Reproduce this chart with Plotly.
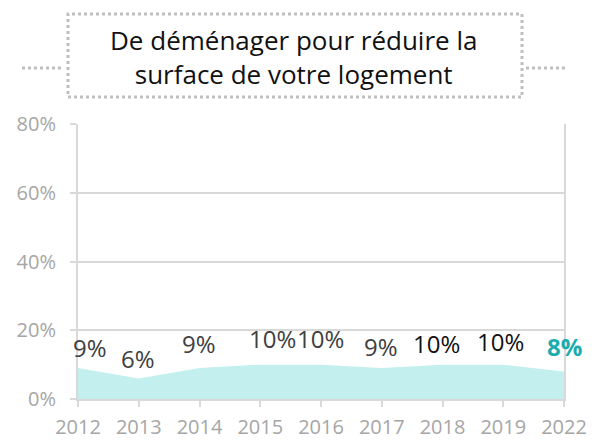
import plotly.graph_objects as go

years = ["2012", "2013", "2014", "2015", "2016", "2017", "2018", "2019", "2022"]
values = [9, 6, 9, 10, 10, 9, 10, 10, 8]
labels = ["9%", "6%", "9%", "10%", "10%", "9%", "10%", "10%", "8%"]
y_ticks = [0, 20, 40, 60, 80]
y_tick_labels = ["0%", "20%", "40%", "60%", "80%"]
title_lines = ["De déménager pour réduire la", "surface de votre logement"]

FONT = "Open Sans"
L, R, T, B = 78, 31, 124, 41
PW, PH = 595 - L - R, 440 - T - B

def px(x):
    return (x - L) / PW

def py(y):
    return (440 - B - y) / PH

fig = go.Figure()
fig.add_trace(go.Scatter(
    x=list(range(len(years))), y=values, mode="lines",
    line=dict(color="#C3F0EF", width=0), fill="tozeroy", fillcolor="#C3F0EF",
    hoverinfo="skip", showlegend=False))

label_colors = ["#404040"] * 6 + ["#111111", "#111111", "#1AADB0"]
label_bold = [False] * 8 + [True]
xshifts = [12, -1, -1, 12, -1, -1, -6, -3, 0]
yshifts = [21, 20, 25, 26, 26, 22, 21, 23, 25]
for i, (v, t) in enumerate(zip(values, labels)):
    fig.add_annotation(x=i, y=v, text=f"<b>{t}</b>" if label_bold[i] else t,
                       showarrow=False, xshift=xshifts[i], yshift=yshifts[i],
                       xanchor="center", yanchor="middle",
                       font=dict(family=FONT, size=24, color=label_colors[i]))

# title box
dot = dict(color="#BFBFBF", width=3, dash="dot")
fig.add_shape(type="rect", xref="paper", yref="paper",
              x0=px(68), x1=px(522), y0=py(97), y1=py(14), line=dot)
fig.add_shape(type="line", xref="paper", yref="paper", x0=px(22), x1=px(64),
              y0=py(68), y1=py(68), line=dot)
fig.add_shape(type="line", xref="paper", yref="paper", x0=px(526), x1=px(568),
              y0=py(68), y1=py(68), line=dot)
fig.add_annotation(xref="paper", yref="paper", x=px(293), y=py(57),
                   xanchor="center", yanchor="middle",
                   text="<br>".join(title_lines), showarrow=False,
                   font=dict(family=FONT, size=26, color="#111111"))

axis_common = dict(showline=True, linecolor="#D9D9D9", linewidth=2,
                   ticks="outside", ticklen=6, tickcolor="#D9D9D9", tickwidth=1.5,
                   automargin=False, zeroline=False,
                   tickfont=dict(family=FONT, size=20, color="#A6A6A6"))
fig.update_layout(
    width=595, height=440, margin=dict(l=L, r=R, t=T, b=B),
    paper_bgcolor="white", plot_bgcolor="white",
    xaxis=dict(range=[0, len(years) - 1], tickmode="array",
               tickvals=list(range(len(years))), ticktext=years,
               showgrid=False, ticklabelstandoff=3, **axis_common),
    yaxis=dict(range=[0, 80], tickmode="array", tickvals=y_ticks,
               ticktext=y_tick_labels, showgrid=True, gridcolor="#D9D9D9",
               gridwidth=1.5, mirror=True, ticklabelstandoff=10, **axis_common),
)
fig.write_html("out.html", config={"displayModeBar": False},
               post_script="document.body.style.margin='0';document.body.style.overflow='hidden';")
